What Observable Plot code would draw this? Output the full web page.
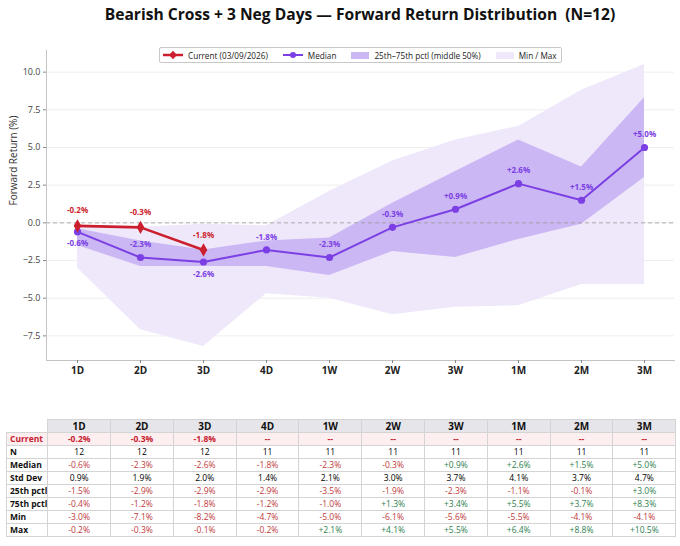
<!DOCTYPE html>
<html>
<head>
<meta charset="utf-8">
<script src="https://cdn.jsdelivr.net/npm/d3@7"></script>
<script src="https://cdn.jsdelivr.net/npm/@observablehq/plot@0.6"></script>
<style>
  body { margin: 0; background: #fff; font-family: "Open Sans", sans-serif; }
  #wrap { position: relative; width: 680px; height: 546px; }
  #title { position: absolute; left: 40px; top: 0; width: 640px; height: 28px; line-height: 28px;
           text-align: center; font-weight: bold; font-size: 15.6px; color: #111; }
  #graph { position: absolute; left: 0; top: 30px; }
  #legend { position: absolute; left: 159px; top: 47px; width: 401px; height: 14px;
            border: 1px solid #c8c8c8; border-radius: 2px; background: #fff;
            display: flex; align-items: center; font-size: 8.2px; color: #222; white-space: nowrap; }
  #legend .item { display: flex; align-items: center; flex: none; margin-left: 3px; margin-right: 12px; }
  #legend svg { margin-right: 5px; flex: none; }
  #stats { position: absolute; left: 6px; top: 419px; border-collapse: collapse; table-layout: fixed;
           font-size: 8.5px; }
  #stats td, #stats th { border: 1px solid #d4d4d4; height: 12px; line-height: 12px; padding: 0;
           text-align: center; white-space: nowrap; overflow: hidden; }
  #stats th { background: #e6e6ea; font-size: 10px; font-weight: bold; color: #111; }
  #stats th.blank { background: #fff; border: none; }
  #stats td.lab { text-align: left; padding-left: 3px; font-weight: bold; color: #111; }
  #stats tr.cur td { background: #fdeef0; color: #c8202f; font-weight: bold; }
  .neg { color: #c0393b; }
  .pos { color: #2f8050; }
</style>
</head>
<body>
<div id="wrap">
  <div id="title">Bearish Cross + 3 Neg Days — Forward Return Distribution&nbsp;&nbsp;(N=12)</div>
  <div id="graph"></div>
  <div id="legend"></div>
  <table id="stats"></table>
</div>
<script>
const horizons = ["1D", "2D", "3D", "4D", "1W", "2W", "3W", "1M", "2M", "3M"];
const current  = [-0.2, -0.3, -1.8, null, null, null, null, null, null, null];
const counts   = [12, 12, 12, 11, 11, 11, 11, 11, 11, 11];
const median   = [-0.6, -2.3, -2.6, -1.8, -2.3, -0.3, 0.9, 2.6, 1.5, 5.0];
const stdDev   = [0.9, 1.9, 2.0, 1.4, 2.1, 3.0, 3.7, 4.1, 3.7, 4.7];
const p25      = [-1.5, -2.9, -2.9, -2.9, -3.5, -1.9, -2.3, -1.1, -0.1, 3.0];
const p75      = [-0.4, -1.2, -1.8, -1.2, -1.0, 1.3, 3.4, 5.5, 3.7, 8.3];
const minRet   = [-3.0, -7.1, -8.2, -4.7, -5.0, -6.1, -5.6, -5.5, -4.1, -4.1];
const maxRet   = [-0.2, -0.3, -0.1, -0.2, 2.1, 4.1, 5.5, 6.4, 8.8, 10.5];
const yTicks   = [-7.5, -5.0, -2.5, 0.0, 2.5, 5.0, 7.5, 10.0];
const currentLabel = "Current (03/09/2026)";

const RED = "#cc1f2e";
const PURPLE = "#7b3fe4";

const rows = horizons.map((h, i) => ({
  h, cur: current[i], n: counts[i], med: median[i], sd: stdDev[i],
  p25: p25[i], p75: p75[i], min: minRet[i], max: maxRet[i]
}));
const curRows = rows.filter(d => d.cur != null);

// median label goes below when the current marker sits just above it
const below = d => d.cur != null && d.cur - d.med < 1.5;

const lo = d3.min(minRet), hi = d3.max(maxRet);
const pad = (hi - lo) * 0.05;

const sgn = d => (d > 0 ? "+" : d < 0 ? "-" : "") + Math.abs(d).toFixed(1) + "%";
const plain = d => (d < 0 ? "-" : "") + Math.abs(d).toFixed(1) + "%";

const plot = Plot.plot({
  width: 680,
  height: 360,
  marginTop: 20,
  marginBottom: 30,
  marginLeft: 46,
  marginRight: 6,
  style: { fontFamily: "Open Sans, sans-serif", fontSize: "9px", color: "#444", background: "#fff" },
  x: { type: "point", domain: horizons, padding: 0.45, label: null },
  y: { domain: [lo - pad, hi + pad], label: null },
  marks: [
    Plot.gridY(yTicks, { stroke: "#eeeeee", strokeOpacity: 1 }),
    Plot.areaY(rows, { x: "h", y1: "min", y2: "max", fill: "#efe8fb", fillOpacity: 1 }),
    Plot.areaY(rows, { x: "h", y1: "p25", y2: "p75", fill: "#cbb7f3", fillOpacity: 1 }),
    Plot.ruleY([0], { stroke: "#9a9a9a", strokeWidth: 0.8, strokeDasharray: "4,3" }),
    Plot.frame({ anchor: "left", stroke: "#c4c4c4" }),
    Plot.frame({ anchor: "bottom", stroke: "#c4c4c4" }),
    Plot.axisY(yTicks, { tickFormat: d3.format(".1f"), tickSize: 3, tickPadding: 3, stroke: "#888", fill: "#444", fontSize: 9 }),
    Plot.axisX({ tickSize: 3, tickPadding: 3, stroke: "#888", fill: "#222", fontSize: 10, fontWeight: "bold" }),
    Plot.text(["Forward Return (%)"], { frameAnchor: "left", dx: -33, rotate: -90, fontSize: 10, fill: "#333" }),
    Plot.line(rows, { x: "h", y: "med", stroke: PURPLE, strokeWidth: 2 }),
    Plot.dot(rows, { x: "h", y: "med", r: 3.6, fill: PURPLE }),
    Plot.line(curRows, { x: "h", y: "cur", stroke: RED, strokeWidth: 2.6 }),
    Plot.dot(curRows, { x: "h", y: "cur", symbol: "diamond", r: 4, fill: RED }),
    Plot.text(rows.filter(d => !below(d)), { x: "h", y: "med", text: d => sgn(d.med), dy: -13, fill: PURPLE, fontSize: 8, fontWeight: "bold" }),
    Plot.text(rows.filter(below), { x: "h", y: "med", text: d => sgn(d.med), dy: 12, fill: PURPLE, fontSize: 8, fontWeight: "bold" }),
    Plot.text(curRows, { x: "h", y: "cur", text: d => sgn(d.cur), dy: -15, fill: RED, fontSize: 8, fontWeight: "bold" })
  ]
});
d3.select("#graph").append(() => plot);

// legend
const legendItems = [
  { label: currentLabel, icon: `<svg width="20" height="10"><line x1="0" y1="5" x2="20" y2="5" stroke="${RED}" stroke-width="2.5"/><path d="M10 0.8 L14 5 L10 9.2 L6 5Z" fill="${RED}"/></svg>` },
  { label: "Median", icon: `<svg width="20" height="10"><line x1="0" y1="5" x2="20" y2="5" stroke="${PURPLE}" stroke-width="2"/><circle cx="10" cy="5" r="3" fill="${PURPLE}"/></svg>` },
  { label: "25th–75th pctl (middle 50%)", icon: `<svg width="18" height="7"><rect width="18" height="7" fill="#cbb7f3"/></svg>` },
  { label: "Min / Max", icon: `<svg width="18" height="7"><rect width="18" height="7" fill="#efe8fb"/></svg>` }
];
d3.select("#legend").selectAll("div").data(legendItems).join("div")
  .attr("class", "item")
  .html(d => d.icon + `<span>${d.label}</span>`);

// stats table
const tbl = d3.select("#stats");
const cg = tbl.append("colgroup");
cg.append("col").style("width", "40px");
horizons.forEach(() => cg.append("col").style("width", "62.8px"));
const hr = tbl.append("tr");
hr.append("th").attr("class", "blank");
horizons.forEach(h => hr.append("th").text(h));

const signCls = v => v > 0 ? "pos" : v < 0 ? "neg" : "";
const tableRows = [
  { name: "Current", cls: "cur", vals: current.map(v => v == null ? { t: "--" } : { t: plain(v) }) },
  { name: "N", vals: counts.map(v => ({ t: String(v) })) },
  { name: "Median", vals: median.map(v => ({ t: sgn(v), c: signCls(v) })) },
  { name: "Std Dev", vals: stdDev.map(v => ({ t: v.toFixed(1) + "%" })) },
  { name: "25th pctl", vals: p25.map(v => ({ t: sgn(v), c: signCls(v) })) },
  { name: "75th pctl", vals: p75.map(v => ({ t: sgn(v), c: signCls(v) })) },
  { name: "Min", vals: minRet.map(v => ({ t: sgn(v), c: signCls(v) })) },
  { name: "Max", vals: maxRet.map(v => ({ t: sgn(v), c: signCls(v) })) }
];
tableRows.forEach(r => {
  const tr = tbl.append("tr").attr("class", r.cls || null);
  tr.append("td").attr("class", "lab").text(r.name);
  r.vals.forEach(v => tr.append("td").attr("class", v.c || null).text(v.t));
});
</script>
</body>
</html>
